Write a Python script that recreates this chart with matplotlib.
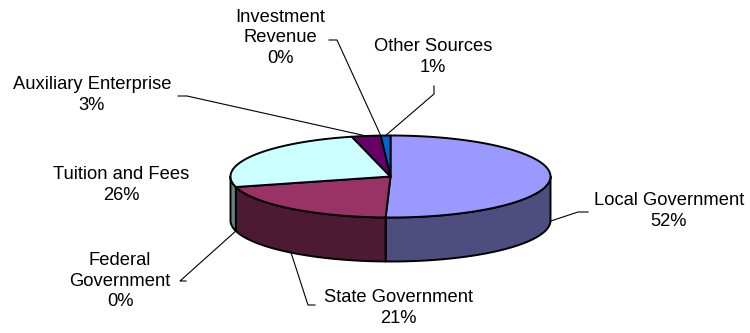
import numpy as np
import matplotlib.pyplot as plt
from matplotlib.patches import Polygon

# Revenue sources, clockwise from 12 o'clock
sources = ['Local Government', 'State Government', 'Federal\nGovernment',
           'Tuition and Fees', 'Auxiliary Enterprise', 'Investment\nRevenue',
           'Other Sources']
percents = [52, 21, 0, 26, 3, 0, 1]
top_colors = ['#9999FF', '#993366', '#FFFFCC', '#CCFFFF', '#660066', '#FF8080', '#0066CC']

# label block centre and leader elbow, in pixels
label_pos = [(669, 211), (398, 308), (120, 281), (121, 185), (92, 95), (280, 38), (433, 57)]
elbows = [[(588, 212), (578, 212)], [(315, 305), (308, 305)], [(186, 281), (180, 281)],
          None, [(178, 96), (187, 96)], [(329, 40), (337, 40)], [(434, 86), (434, 94)]]

cx, cy, a, b, depth = 390.5, 176.5, 160, 41, 44

def darker(c, f=0.5):
    r, g, bl = [int(c[i:i + 2], 16) / 255 for i in (1, 3, 5)]
    return (r * f, g * f, bl * f)

def pt(theta, dz=0):
    return cx + a * np.sin(theta), cy - b * np.cos(theta) + dz

fig = plt.figure(figsize=(7.5, 3.33), dpi=100)
ax = fig.add_axes([0, 0, 1, 1])
ax.set_xlim(0, 750)
ax.set_ylim(333, 0)
ax.axis('off')

fracs = np.array(percents, dtype=float) / sum(percents)
edges = np.concatenate([[0], np.cumsum(fracs)]) * 2 * np.pi

# side walls (front half only: 90..270 degrees)
for i, col in enumerate(top_colors):
    t0, t1 = max(edges[i], np.pi / 2), min(edges[i + 1], 3 * np.pi / 2)
    if t1 <= t0:
        continue
    th = np.linspace(t0, t1, 120)
    top = [pt(t) for t in th]
    bot = [pt(t, depth) for t in th[::-1]]
    ax.add_patch(Polygon(top + bot, closed=True, facecolor=darker(col),
                         edgecolor='black', lw=1.4, joinstyle='round'))

# top faces
for i, col in enumerate(top_colors):
    if fracs[i] <= 0:
        continue
    th = np.linspace(edges[i], edges[i + 1], 200)
    poly = [(cx, cy)] + [pt(t) for t in th]
    ax.add_patch(Polygon(poly, closed=True, facecolor=col,
                         edgecolor='black', lw=1.4, joinstyle='round'))

# labels with leader lines
for i, name in enumerate(sources):
    lx, ly = label_pos[i]
    ax.text(lx, ly, f'{name}\n{percents[i]:.0f}%', ha='center', va='center',
            fontsize=13.2, family='Liberation Sans', linespacing=1.3)
    if elbows[i] is None:
        continue
    mid = (edges[i] + edges[i + 1]) / 2
    ax_, ay_ = pt(mid, depth if np.cos(mid) < 0 else 0)
    xs = [p[0] for p in elbows[i]] + [ax_]
    ys = [p[1] for p in elbows[i]] + [ay_]
    ax.plot(xs, ys, color='black', lw=0.8)

fig.savefig('out.png', dpi=100)
